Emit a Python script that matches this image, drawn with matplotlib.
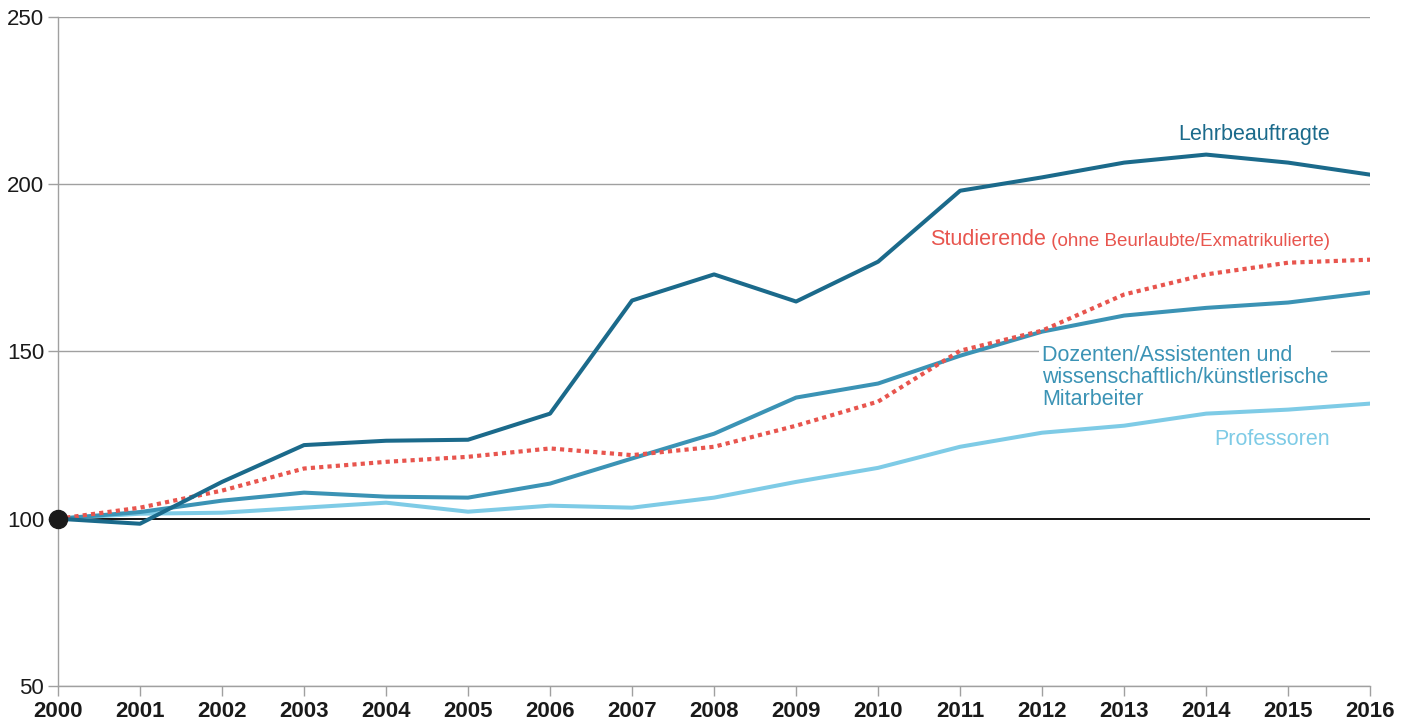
import matplotlib.pyplot as plt

plt.rcParams['font.family'] = ['Liberation Sans', 'DejaVu Sans']

years = list(range(2000, 2017))
lehrbeauftragte = [100, 98.5, 111, 122, 123.3, 123.6, 131.4, 165.2, 173, 164.9, 176.8,
                   198, 202, 206.4, 208.8, 206.4, 202.8]
studierende = [100, 103.3, 108.4, 115, 117, 118.5, 121, 119, 121.5, 127.8, 135,
               150.2, 156.2, 167, 173, 176.5, 177.4]
dozenten = [100, 102, 105.4, 107.8, 106.6, 106.3, 110.5, 118, 125.4, 136.2, 140.4,
            148.7, 155.9, 160.7, 163, 164.6, 167.6]
professoren = [100, 101.5, 101.8, 103.3, 104.8, 102.1, 103.9, 103.3, 106.3, 111, 115.2,
               121.5, 125.7, 127.8, 131.4, 132.6, 134.4]
yticks = [50, 100, 150, 200, 250]

c_lehr = '#1b6a8b'
c_stud = '#e8554e'
c_doz = '#3b93b5'
c_prof = '#7ecbe6'

fig = plt.figure(figsize=(14.14, 7.26), dpi=100)
ax = fig.add_axes([0.041, 0.055, 0.928, 0.922])

for y in yticks:
    if y == 100:
        ax.axhline(y, color='black', lw=1.3, zorder=1)
    else:
        ax.axhline(y, color='#a0a0a0', lw=1.0, zorder=1)

ax.plot(years, professoren, color=c_prof, lw=2.9, zorder=3)
ax.plot(years, dozenten, color=c_doz, lw=2.9, zorder=4)
ax.plot(years, studierende, color=c_stud, lw=3.0, ls=(0, (1, 1.0)), zorder=5)
ax.plot(years, lehrbeauftragte, color=c_lehr, lw=2.9, zorder=6)
ax.plot([years[0]], [100], 'o', color='#1a1a1a', ms=13, zorder=7, clip_on=False)

ax.set_xlim(2000, 2016)
ax.set_ylim(50, 250)
ax.set_xticks(years)
ax.set_xticklabels([str(y) for y in years], fontsize=16, fontweight='bold', color='#1a1a1a')
ax.set_yticks(yticks)
ax.set_yticklabels([str(y) for y in yticks], fontsize=16, color='#1a1a1a')
ax.tick_params(axis='both', length=7, width=1, color='#a0a0a0')
ax.tick_params(axis='x', pad=4)
ax.tick_params(axis='y', pad=3)

for s in ['top', 'right']:
    ax.spines[s].set_visible(False)
for s in ['left', 'bottom']:
    ax.spines[s].set_color('#a0a0a0')
    ax.spines[s].set_linewidth(1)

ax.text(2015.51, 214.8, 'Lehrbeauftragte', color=c_lehr, fontsize=15.5,
        ha='right', va='center')
t1 = ax.text(2010.63, 183.3, 'Studierende', color=c_stud, fontsize=15.5,
             ha='left', va='center')
ax.annotate(' (ohne Beurlaubte/Exmatrikulierte)', xy=(1, 0), xycoords=t1,
            va='bottom', ha='left', color=c_stud, fontsize=13.5)
ax.text(2012.0, 142.3,
        'Dozenten/Assistenten und\nwissenschaftlich/künstlerische\nMitarbeiter',
        color=c_doz, fontsize=15.5, ha='left', va='center', linespacing=1.07,
        bbox=dict(facecolor='white', edgecolor='none', pad=2), zorder=2)
ax.text(2015.51, 123.6, 'Professoren', color=c_prof, fontsize=15.5,
        ha='right', va='center')

fig.savefig('out.png', dpi=100)
